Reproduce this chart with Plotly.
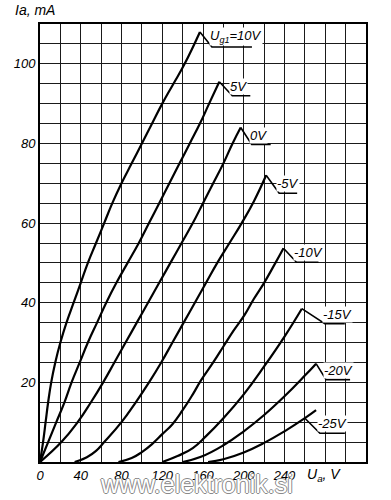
import plotly.graph_objects as go

# Grid voltages (curve labels)
ug_labels = ["U<sub>g1</sub>=10V", "5V", "0V", "-5V", "-10V", "-15V", "-20V", "-25V"]

# Anode voltage Ua (V) and anode current Ia (mA)
ua_p10 = [0, 3, 5.5, 8, 11, 15, 20, 26, 33, 40, 47, 55, 63, 71, 80, 90, 100, 110, 120, 131, 142, 157]
ia_p10 = [0, 5, 10, 15, 20, 25, 30, 35, 40, 45, 50, 55, 60, 65, 70, 75, 80, 85, 90, 95, 100, 108]

ua_p5 = [0, 8, 16, 24, 31, 39, 47, 56, 65, 75, 86, 97, 107, 117, 127, 137, 147, 157, 166, 176]
ia_p5 = [0, 5, 10, 15, 20, 25, 30, 35, 40, 45, 50, 55, 60, 65, 70, 75, 80, 85, 90, 95.5]

ua_0 = [0, 21, 37, 50, 62, 73, 84, 95, 106, 117, 128, 139, 150, 160, 170, 180, 189, 197]
ia_0 = [0, 5, 10, 15, 20, 25, 30, 35, 40, 45, 50, 55, 60, 65, 70, 75, 80, 84]

ua_m5 = [34, 46, 55, 63, 80, 94, 107, 119, 130, 141, 152, 163, 174, 186, 198, 210, 222]
ia_m5 = [0, 1.2, 2.8, 5, 10, 15, 20, 25, 30, 35, 40, 45, 50, 55, 60, 65.5, 72]

ua_m10 = [77, 90, 100, 110, 120, 130, 140, 150, 158, 170, 180, 190, 201, 210, 220, 230, 239]
ia_m10 = [0, 1, 2.5, 4.5, 7, 9.5, 13, 17, 20.5, 25, 29, 33, 37, 41, 45, 49.5, 53.7]

ua_m15 = [120, 135, 150, 163, 180, 200, 220, 240, 257]
ia_m15 = [0, 1.5, 3.5, 6.5, 11, 17, 24, 31.5, 38.5]

ua_m20 = [140, 158, 180, 200, 220, 240, 260, 271]
ia_m20 = [0, 1.3, 4.2, 7.7, 11.8, 16.5, 21.7, 24.7]

ua_m25 = [165, 180, 200, 220, 240, 260, 271]
ia_m25 = [0, 0.7, 2.4, 4.8, 7.7, 11, 13]

curves = [(ua_p10, ia_p10), (ua_p5, ia_p5), (ua_0, ia_0), (ua_m5, ia_m5),
          (ua_m10, ia_m10), (ua_m15, ia_m15), (ua_m20, ia_m20), (ua_m25, ia_m25)]

# Axis ticks
x_ticks = list(range(0, 321, 20))
x_ticktext = ["0", "", "40", "", "80", "", "120", "", "160", "", "200", "", "240", "", "", "", ""]
y_ticks = list(range(0, 111, 5))
y_ticktext = ["" if (v == 0 or v % 20) else str(v) for v in y_ticks]

# Label leader styling: (point index on curve, dx, dy, underline length) in pixels
leader_style = [(-1, 12, 15, 40), (-1, 13, 14, 18), (-1, 11, 17, 19), (-1, 13, 18, 18),
                (-1, 13, 14, 22), (-1, 23, 15, 20), (-1, 10, 16, 24), (-2, 15, 15, 25)]

FONT = "Liberation Sans, Arial, sans-serif"

fig = go.Figure()
for ua, ia in curves:
    fig.add_trace(go.Scatter(x=ua, y=ia, mode="lines", hoverinfo="skip",
                             line=dict(color="black", width=2.2, shape="spline", smoothing=1.3)))

shapes = []
annotations = []
for (ua, ia), lab, (idx, dx, dy, L) in zip(curves, ug_labels, leader_style):
    ax_, ay_ = ua[idx], ia[idx]
    shapes.append(dict(type="path", xref="x", yref="y", xsizemode="pixel", ysizemode="pixel",
                       xanchor=ax_, yanchor=ay_,
                       path=f"M 0,0 L {dx},{-dy} L {dx + L},{-dy}",
                       line=dict(color="black", width=1.6)))
    annotations.append(dict(x=ax_, y=ay_, xref="x", yref="y", text=lab, showarrow=False,
                            xanchor="left", yanchor="bottom", xshift=dx - 3, yshift=-dy + 1,
                            bgcolor="white", borderpad=0,
                            font=dict(family=FONT, size=13, color="black", style="italic")))

annotations.append(dict(x=-0.083, y=1, xref="paper", yref="paper", text="Ia, mA", showarrow=False,
                        xanchor="left", yanchor="bottom", yshift=4,
                        font=dict(family=FONT, size=14, color="black", style="italic")))
annotations.append(dict(x=0.87, y=0, xref="paper", yref="paper", text="U<sub>a</sub>, V", showarrow=False,
                        xanchor="center", yanchor="top", yshift=-2,
                        font=dict(family=FONT, size=14, color="black", style="italic")))
annotations.append(dict(x=0.48, y=-37.5 / 438, xref="paper", yref="paper", text="www.elektronik.si",
                        showarrow=False, xanchor="center", yanchor="bottom",
                        font=dict(family=FONT, size=25, color="white",
                                  shadow="-1px 0 #8a8a8a, 1px 0 #8a8a8a, 0 -1px #8a8a8a, 0 1px #8a8a8a")))

fig.update_layout(
    width=391, height=500, autosize=False,
    margin=dict(l=40, r=25, t=24, b=38),
    plot_bgcolor="white", paper_bgcolor="white",
    showlegend=False,
    shapes=shapes, annotations=annotations,
    xaxis=dict(range=[0, 320], tickvals=x_ticks, ticktext=x_ticktext, showgrid=True,
               gridcolor="#1a1a1a", gridwidth=1.3, zeroline=False, showline=True, mirror=True,
               linecolor="black", linewidth=2, ticks="", fixedrange=True,
               tickfont=dict(family=FONT, size=13, color="black", style="italic")),
    yaxis=dict(range=[0, 110], tickvals=y_ticks, ticktext=y_ticktext, showgrid=True,
               gridcolor="#1a1a1a", gridwidth=1.3, zeroline=False, showline=True, mirror=True,
               linecolor="black", linewidth=2, ticks="", fixedrange=True,
               tickfont=dict(family=FONT, size=13, color="black", style="italic")),
)

fig.write_html("out.html")
